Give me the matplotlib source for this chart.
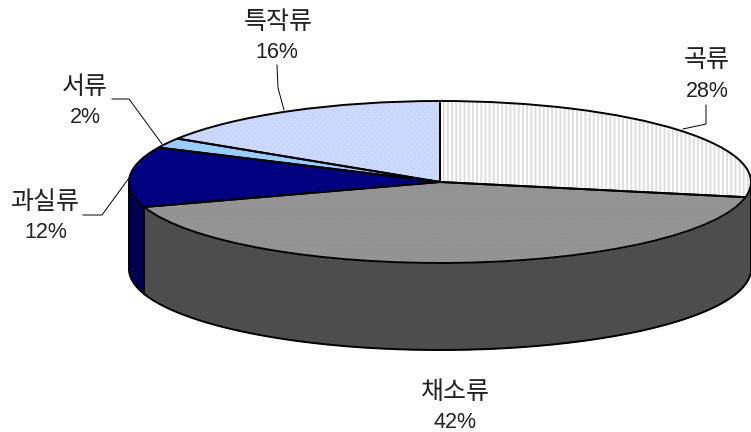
import matplotlib
matplotlib.use("Agg")
import matplotlib.pyplot as plt
from matplotlib.patches import Wedge
import numpy as np

plt.rcParams['font.family'] = ['Liberation Sans', 'Noto Sans CJK KR']
plt.rcParams['hatch.linewidth'] = 1.4

categories = ["곡류", "채소류", "과실류", "서류", "특작류"]
shares = [28, 42, 12, 2, 16]
top_colors = ["#ffffff", "#8f8f8f", "#000080", "#99ccff", "#d2ddff"]
hatch_colors = ["#dedede", "#999999", "#000080", "#99ccff", "#c8d6fd"]
hatches = ["||||", "......", "", "", "xxxxxx"]

W, H = 751, 432
CX, CY = 440, 182   # ellipse centre in pixels
RX, RY = 311, 81
DEPTH = 87 / RY
EDGE = 1.4


def px(x, y):
    return (x - CX) / RX, (CY - y) / RY


fig = plt.figure(figsize=(W / 100, H / 100), dpi=100)
ax = fig.add_axes([0, 0, 1, 1])

# side wall first, the top surface is painted over it
fractions = np.cumsum(shares) / sum(shares)
end_veg = 2 * np.pi * fractions[1]


def wall(a0, a1, color):
    t = np.linspace(a0, a1, 200)
    x = np.sin(t)
    y = np.cos(t)
    ax.fill_between(x, y, y - DEPTH, color=color, lw=0, zorder=1)
    ax.plot(x, y - DEPTH, color="black", lw=EDGE, zorder=2)


wall(np.pi / 2, end_veg, "#4d4d4d")
wall(end_veg, 1.5 * np.pi, "#000050")
for a in [np.pi / 2, end_veg, 1.5 * np.pi]:
    ax.plot([np.sin(a)] * 2, [np.cos(a), np.cos(a) - DEPTH], color="black", lw=EDGE, zorder=2)

wedges, _ = ax.pie(shares, startangle=90, counterclock=False, radius=1,
                   wedgeprops=dict(linewidth=0, zorder=3))
for w, fc, hc, h in zip(wedges, top_colors, hatch_colors, hatches):
    w.set_facecolor(fc)
    w.set_edgecolor(hc)
    w.set_hatch(h)
    # hatch takes the edge colour, so the black outline goes on separately
    ax.add_patch(Wedge((0, 0), 1, w.theta1, w.theta2, fill=False,
                       edgecolor="black", lw=EDGE, zorder=4))

ax.set_aspect("auto")
ax.set_xlim(px(0, 0)[0], px(W, 0)[0])
ax.set_ylim(px(0, H)[1], px(0, 0)[1])
ax.axis("off")

# labels, pixel positions of the name and the percentage
name_pos = [(707, 60), (455, 392), (45, 202), (85, 87), (278, 22)]
pct_pos = [(707, 91), (455, 422), (46, 232), (85, 117), (277, 52)]
for p, q, name, s in zip(name_pos, pct_pos, categories, shares):
    ax.text(*px(*p), name, ha="center", va="center", fontsize=18, color="#222222", zorder=5)
    ax.text(*px(*q), f"{s}%", ha="center", va="center", fontsize=15.5, color="#222222", zorder=5)

leaders = [
    [(706, 105), (706, 124), (683, 129)],
    [(83, 215), (102, 215), (129, 178)],
    [(112, 99), (129, 99), (162, 144)],
    [(277, 65), (278, 88), (284, 110)],
]
for line in leaders:
    xs, ys = zip(*[px(*p) for p in line])
    ax.plot(xs, ys, color="black", lw=0.7, zorder=5)

fig.savefig("out.png", dpi=100)
